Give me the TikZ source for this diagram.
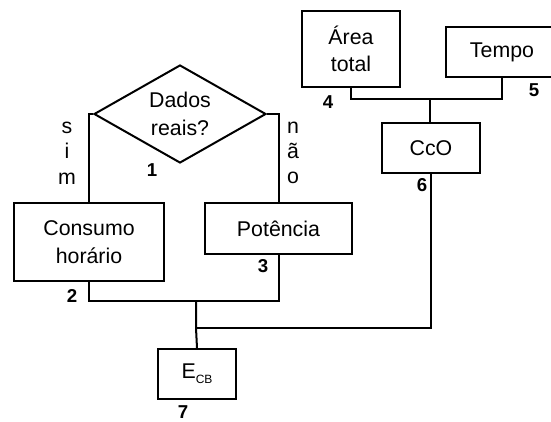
\documentclass[tikz,border=0pt]{standalone}
\usepackage{fontspec}
\setmainfont{Liberation Sans}
\usetikzlibrary{shapes.geometric}
\begin{document}
\begin{tikzpicture}[x=0.75pt,y=-0.75pt,line width=1.5pt,
  every node/.style={font=\fontsize{16}{20.5}\selectfont},
  block/.style={draw,rectangle,align=center,inner sep=0pt},
  decision/.style={draw,diamond,align=center,inner sep=0pt,aspect=1.755},
  num/.style={font=\fontsize{14}{16}\selectfont\bfseries,inner sep=0pt},
  vlabel/.style={align=center,inner sep=0pt,font=\fontsize{16}{19}\selectfont},
  wire/.style={line join=miter}]
  \useasboundingbox (0,0) rectangle (551,422);

  % decision
  \node[decision,minimum width=129pt,minimum height=73.5pt] (dia) at (180,114) {Dados\\reais?};
  \node[num] (n1) at (152,170) {1};
  \node[vlabel] (sim) at (67,153) {s\\i\\m};
  \node[vlabel] (nao) at (293,153) {n\\ã\\o};

  % left branch blocks
  \node[block,minimum width=112.5pt,minimum height=58.5pt] (cons) at (89,242) {Consumo\\horário};
  \node[num] (n2) at (72,296) {2};
  \node[block,minimum width=110.25pt,minimum height=38.25pt] (pot) at (278.5,228.5) {Potência};
  \node[num] (n3) at (263,266) {3};

  % right branch blocks
  \node[block,minimum width=73.5pt,minimum height=57pt] (area) at (351,49) {Área\\total};
  \node[num] (n4) at (328,102) {4};
  \node[block,minimum width=84pt,minimum height=37.5pt] (tempo) at (502,52) {Tempo};
  \node[num] (n5) at (534,90) {5};
  \node[block,minimum width=73.5pt,minimum height=37.5pt] (cco) at (431,148) {CcO};
  \node[num] (n6) at (422,185) {6};

  % result
  \node[block,minimum width=58.5pt,minimum height=37.5pt] (ecb) at (197,374)
    {E\raisebox{-4pt}{\fontsize{9}{9}\selectfont CB}};
  \node[num] (n7) at (183,412) {7};

  % junction points
  \coordinate (j1) at (196,301);
  \coordinate (j2) at (196,328);
  \coordinate (j3) at (430,99);

  % connectors
  \draw[wire] (dia.west) -| (cons.north);
  \draw[wire] (dia.east) -| (pot.north);
  \draw[wire] (cons.south) |- (j1) -| (pot.south);
  \draw[wire] (j1) -- (j2) -- (ecb.north);
  \draw[wire] (j2) -| (cco.south);
  \draw[wire] (area.south) |- (j3) -| (tempo.south);
  \draw[wire] (j3) -- (j3 |- cco.north);
\end{tikzpicture}
\end{document}
